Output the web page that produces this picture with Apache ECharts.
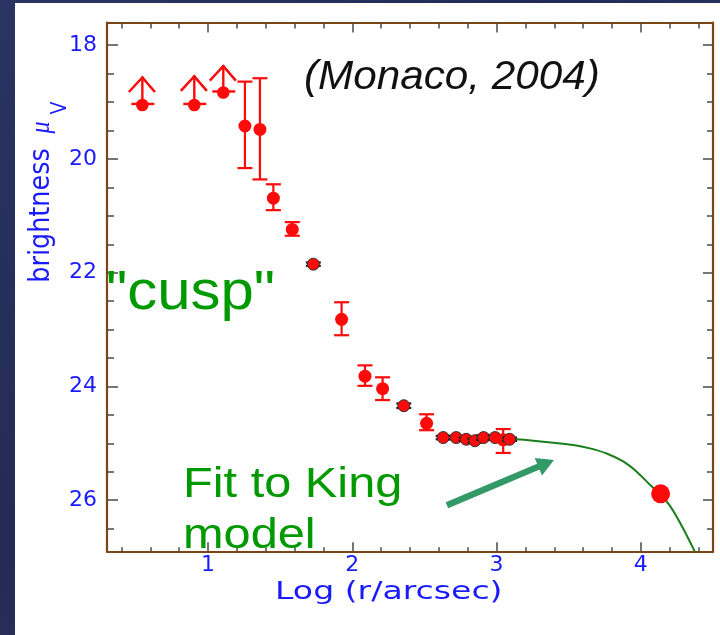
<!DOCTYPE html>
<html><head><meta charset="utf-8">
<script src="https://cdn.jsdelivr.net/npm/echarts@6/dist/echarts.min.js"></script>
<style>
html,body{margin:0;padding:0;width:720px;height:635px;overflow:hidden;background:linear-gradient(135deg,#2a3462,#232b55 40%,#333d6e);}
#bg{position:absolute;left:15px;top:3px;width:705px;height:632px;background:#fff;}
#chart{position:absolute;left:0;top:0;width:720px;height:635px;}
</style></head><body>
<div id="bg"></div><div id="chart"></div>
<script>
// ---- data (Log r/arcsec, surface brightness mu_V) ----
const limitX   = [0.545, 0.905, 1.106];
const limitY   = [19.05, 19.05, 18.83];
const limitTip = [18.55, 18.53, 18.35];

const obsX      = [1.256, 1.36, 1.453, 1.584, 1.73, 1.926, 2.088, 2.21, 2.357, 2.515, 2.63, 2.72, 2.79, 2.85, 2.91, 2.99, 3.046, 3.09];
const obsY      = [19.42, 19.48, 20.69, 21.24, 21.85, 22.82, 23.82, 24.04, 24.34, 24.65, 24.90, 24.90, 24.93, 24.955, 24.90, 24.90, 24.94, 24.93];
const errTop    = [18.64, 18.58, 20.445, 21.11, 21.82, 22.52, 23.63, 23.84, 24.30, 24.49, 24.87, 24.87, 24.90, 24.92, 24.86, 24.86, 24.75, 24.90];
const errBottom = [20.16, 20.36, 20.90, 21.35, 21.88, 23.10, 23.99, 24.24, 24.38, 24.77, 24.93, 24.93, 24.96, 24.99, 24.94, 24.94, 25.17, 24.96];

const outerX = [4.137];
const outerY = [25.89];

const kingX = [3.09, 3.128, 3.254, 3.393, 3.532, 3.647, 3.763, 3.878, 3.971, 4.063, 4.137, 4.202, 4.283, 4.375];
const kingY = [24.93, 24.93, 24.955, 24.99, 25.03, 25.09, 25.18, 25.32, 25.50, 25.73, 25.91, 26.10, 26.45, 26.91];

const arrowFrom = [2.656, 26.09];
const arrowTo   = [3.398, 25.295];

const xTickLabels = [1, 2, 3, 4];
const yTickLabels = [18, 20, 22, 24, 26];
const xMinorTicks = [0.4, 0.6, 0.8, 1.2, 1.4, 1.6, 1.8, 2.2, 2.4, 2.6, 2.8, 3.2, 3.4, 3.6, 3.8, 4.2, 4.4];
const yMinorTicks = [18.5, 19, 19.5, 20.5, 21, 21.5, 22.5, 23, 23.5, 24.5, 25, 25.5, 26.5];

// ---- style ----
const RED = '#ff0a0a', BROWN = '#7b4515', BLUE = '#1a1aff', GREEN = '#009a00', TICK = '#4a4a4a';
const X_MIN = 0.3, X_MAX = 4.5, Y_MIN = 17.6, Y_MAX = 26.9;

function xAx(pos, vals, len, lineShow, labels) {
  return {
    type: 'value', position: pos, min: X_MIN, max: X_MAX,
    axisLine: { show: lineShow, onZero: false, lineStyle: { color: BROWN, width: 2.2 } },
    axisTick: { show: true, inside: true, length: len, customValues: vals, lineStyle: { color: TICK, width: 1.5 } },
    axisLabel: labels ? { show: true, customValues: vals, color: BLUE, fontFamily: 'DejaVu Sans', fontSize: 22, margin: 3 } : { show: false },
    splitLine: { show: false }
  };
}
function yAx(pos, vals, len, lineShow, labels) {
  return {
    type: 'value', position: pos, min: Y_MIN, max: Y_MAX, inverse: true,
    axisLine: { show: lineShow, onZero: false, lineStyle: { color: BROWN, width: 2.2 } },
    axisTick: { show: true, inside: true, length: len, customValues: vals, lineStyle: { color: TICK, width: 1.5 } },
    axisLabel: labels ? { show: true, customValues: vals, color: BLUE, fontFamily: 'DejaVu Sans', fontSize: 22, margin: 10 } : { show: false },
    splitLine: { show: false }
  };
}

const chart = echarts.init(document.getElementById('chart'), null, { renderer: 'canvas' });

const option = {
  animation: false,
  backgroundColor: 'transparent',
  grid: { left: 107, top: 22.5, width: 606, height: 528.8, show: false },
  xAxis: [
    xAx('bottom', xTickLabels, 9, true, true),
    xAx('bottom', xMinorTicks, 4, false, false),
    xAx('top', xTickLabels, 10, true, false),
    xAx('top', xMinorTicks, 6, false, false)
  ],
  yAxis: [
    yAx('left', yTickLabels, 11, true, true),
    yAx('left', yMinorTicks, 7, false, false),
    yAx('right', yTickLabels, 10, true, false),
    yAx('right', yMinorTicks, 6, false, false)
  ],
  series: [
    {
      type: 'line', xAxisIndex: 0, yAxisIndex: 0, z: 2,
      data: kingX.map((x, i) => [x, kingY[i]]),
      showSymbol: false, smooth: 0.3, clip: true,
      lineStyle: { color: '#1b7d1b', width: 2 }
    },
    {
      type: 'custom', xAxisIndex: 0, yAxisIndex: 0, z: 4,
      data: obsX.map((x, i) => [x, obsY[i], errTop[i], errBottom[i]]),
      renderItem: function (params, api) {
        const p = api.coord([api.value(0), api.value(1)]);
        const a = api.coord([api.value(0), api.value(2)]);
        const b = api.coord([api.value(0), api.value(3)]);
        const tiny = (api.value(3) - api.value(2)) < 0.1;
        const col = tiny ? '#222' : RED;
        const w = 7.5;
        return {
          type: 'group', children: [
            { type: 'line', shape: { x1: a[0], y1: a[1], x2: b[0], y2: b[1] }, style: { stroke: col, lineWidth: 2.2 } },
            { type: 'line', shape: { x1: a[0] - w, y1: a[1], x2: a[0] + w, y2: a[1] }, style: { stroke: col, lineWidth: 2.2 } },
            { type: 'line', shape: { x1: b[0] - w, y1: b[1], x2: b[0] + w, y2: b[1] }, style: { stroke: col, lineWidth: 2.2 } },
            { type: 'circle', shape: { cx: p[0], cy: p[1], r: tiny ? 6 : 6.5 }, style: { fill: RED, stroke: tiny ? '#333' : null, lineWidth: tiny ? 1 : 0 } }
          ]
        };
      }
    },
    {
      type: 'custom', xAxisIndex: 0, yAxisIndex: 0, z: 4,
      data: limitX.map((x, i) => [x, limitY[i], limitTip[i]]),
      renderItem: function (params, api) {
        const p = api.coord([api.value(0), api.value(1)]);
        const t = api.coord([api.value(0), api.value(2)]);
        return {
          type: 'group', children: [
            { type: 'line', shape: { x1: p[0] - 11, y1: p[1] - 1, x2: p[0] + 12, y2: p[1] - 1 }, style: { stroke: RED, lineWidth: 2.4 } },
            { type: 'line', shape: { x1: p[0], y1: p[1], x2: t[0], y2: t[1] }, style: { stroke: RED, lineWidth: 2.4 } },
            { type: 'polyline', shape: { points: [[t[0] - 13, t[1] + 15], [t[0], t[1]], [t[0] + 13, t[1] + 15]] }, style: { stroke: '#333', lineWidth: 1, fill: null } },
            { type: 'polyline', shape: { points: [[t[0] - 13.5, t[1] + 15.5], [t[0], t[1] + 1], [t[0] + 12.5, t[1] + 15.5]] }, style: { stroke: RED, lineWidth: 2.4, fill: null } },
            { type: 'circle', shape: { cx: p[0], cy: p[1], r: 6.3 }, style: { fill: RED } }
          ]
        };
      }
    },
    {
      type: 'scatter', xAxisIndex: 0, yAxisIndex: 0, z: 5,
      data: outerX.map((x, i) => [x, outerY[i]]),
      symbol: 'circle', symbolSize: 19,
      itemStyle: { color: RED, opacity: 1 }
    },
    {
      type: 'custom', xAxisIndex: 0, yAxisIndex: 0, z: 6,
      data: [[arrowFrom[0], arrowFrom[1], arrowTo[0], arrowTo[1]]],
      renderItem: function (params, api) {
        const a = api.coord([api.value(0), api.value(1)]);
        const b = api.coord([api.value(2), api.value(3)]);
        const dx = b[0] - a[0], dy = b[1] - a[1];
        const L = Math.sqrt(dx * dx + dy * dy);
        const ux = dx / L, uy = dy / L, px = -uy, py = ux;
        const hl = 17, hw = 9.5;
        const bx = b[0] - ux * hl, by = b[1] - uy * hl;
        return {
          type: 'group', children: [
            { type: 'line', shape: { x1: a[0], y1: a[1], x2: bx + ux * 2, y2: by + uy * 2 }, style: { stroke: '#339966', lineWidth: 6.5 } },
            { type: 'polygon', shape: { points: [[b[0], b[1]], [bx + px * hw, by + py * hw], [bx - px * hw, by - py * hw]] }, style: { fill: '#339966' } }
          ]
        };
      }
    }
  ],
  graphic: [
    { type: 'text', x: 304, y: 77.3, scaleX: 1.03, style: { text: '(Monaco, 2004)', fill: '#111', font: 'italic 41px "Liberation Sans", Arial, sans-serif', align: 'left', verticalAlign: 'middle' }, z: 10 },
    { type: 'text', x: 106, y: 293.6, scaleX: 1.07, style: { text: '"cusp"', fill: GREEN, font: '56px "Liberation Sans", Arial, sans-serif', align: 'left', verticalAlign: 'middle' }, z: 10 },
    { type: 'text', x: 183, y: 485, scaleX: 1.16, style: { text: 'Fit to King', fill: GREEN, font: '42px "Liberation Sans", Arial, sans-serif', align: 'left', verticalAlign: 'middle' }, z: 10 },
    { type: 'text', x: 183, y: 536, scaleX: 1.16, style: { text: 'model', fill: GREEN, font: '42px "Liberation Sans", Arial, sans-serif', align: 'left', verticalAlign: 'middle' }, z: 10 },
    { type: 'text', x: 275, y: 593, scaleX: 1.38, style: { text: 'Log (r/arcsec)', fill: BLUE, font: '24px "DejaVu Sans", sans-serif', align: 'left', verticalAlign: 'middle' }, z: 10 },
    { type: 'text', x: 41.6, y: 215.5, rotation: Math.PI / 2, scaleY: 1.12, style: { text: 'brightness', fill: BLUE, font: '25.5px "DejaVu Sans", sans-serif', align: 'center', verticalAlign: 'middle' }, z: 10 },
    { type: 'text', x: 42, y: 127.5, rotation: Math.PI / 2, scaleY: 1.15, style: { text: 'μ', fill: BLUE, font: 'italic 24px "Liberation Serif", serif', align: 'center', verticalAlign: 'middle' }, z: 10 },
    { type: 'text', x: 60.6, y: 108, rotation: Math.PI / 2, scaleY: 1.13, style: { text: 'V', fill: BLUE, font: '19px "DejaVu Sans", sans-serif', align: 'center', verticalAlign: 'middle' }, z: 10 }
  ]
};
chart.setOption(option);
</script>
</body></html>
